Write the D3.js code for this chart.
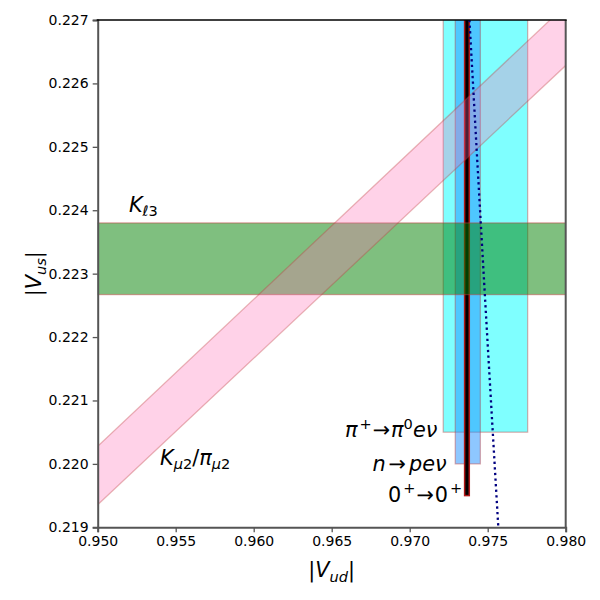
<!DOCTYPE html>
<html><head><meta charset="utf-8">
<script src="https://cdn.jsdelivr.net/npm/d3@7"></script>
<style>body{margin:0;background:#fff}svg{display:block}text{font-family:"DejaVu Sans",sans-serif}</style>
</head><body><svg id="c" width="600" height="600"></svg>
<script>
// ---- data ----
const vudDomain = [0.950, 0.980];
const vusDomain = [0.219, 0.227];
const xTicks = [0.950, 0.955, 0.960, 0.965, 0.970, 0.975, 0.980];
const yTicks = [0.219, 0.220, 0.221, 0.222, 0.223, 0.224, 0.225, 0.226, 0.227];
const kl3Band = [0.22267, 0.22380];            // |Vus| from K_l3
const kmu2Ratio = [0.23090, 0.23187];          // |Vus|/|Vud| band from K_mu2/pi_mu2
const pionBetaBox = [0.97215, 0.97756, 0.2205]; // vud lo, vud hi, vus bottom
const neutronBox = [0.97292, 0.97453, 0.2200];
const superallowedBox = [0.97352, 0.97382, 0.2195];
const unitarityVud = [0.97383, 0.97474, 0.97568];
const unitarityVus = [0.2270, 0.2230, 0.2190];

const svg = d3.select("#c");
const L = 97.7, R = 565.7, T = 20, B = 527.3;
const x = d3.scaleLinear().domain(vudDomain).range([L, R]);
const y = d3.scaleLinear().domain(vusDomain).range([B, T]);
const topV = 0.2275;

svg.append("clipPath").attr("id", "clip").append("rect")
  .attr("x", L).attr("y", T).attr("width", R - L).attr("height", B - T);
const g = svg.append("g").attr("clip-path", "url(#clip)");
const edge = "rgb(190,60,60)";

function box(b, fill, op) {
  g.append("rect").attr("x", x(b[0])).attr("width", x(b[1]) - x(b[0]))
    .attr("y", y(topV)).attr("height", y(b[2]) - y(topV))
    .attr("fill", fill).attr("fill-opacity", op)
    .attr("stroke", edge).attr("stroke-opacity", 0.4).attr("stroke-width", 1.3);
}
box(pionBetaBox, "cyan", 0.5);
box(neutronBox, "dodgerblue", 0.5);
g.append("rect").attr("x", x(superallowedBox[0])).attr("width", x(superallowedBox[1]) - x(superallowedBox[0]))
  .attr("y", y(topV)).attr("height", y(superallowedBox[2]) - y(topV))
  .attr("fill", "black").attr("stroke", "#b01818").attr("stroke-width", 1.5);

// K_l3 horizontal band
g.append("rect").attr("x", x(vudDomain[0]) - 5).attr("width", x(vudDomain[1]) - x(vudDomain[0]) + 10)
  .attr("y", y(kl3Band[1])).attr("height", y(kl3Band[0]) - y(kl3Band[1]))
  .attr("fill", "green").attr("fill-opacity", 0.5)
  .attr("stroke", edge).attr("stroke-opacity", 0.45).attr("stroke-width", 1.3);

// K_mu2/pi_mu2 diagonal band
const pts = [
  [vudDomain[0], kmu2Ratio[0] * vudDomain[0]],
  [vudDomain[1], kmu2Ratio[0] * vudDomain[1]],
  [vudDomain[1], kmu2Ratio[1] * vudDomain[1]],
  [vudDomain[0], kmu2Ratio[1] * vudDomain[0]]
];
g.append("path").attr("d", d3.line().x(d => x(d[0])).y(d => y(d[1]))(pts) + "Z")
  .attr("fill", "hotpink").attr("fill-opacity", 0.3)
  .attr("stroke", edge).attr("stroke-opacity", 0.35).attr("stroke-width", 1.3);

// unitarity dotted line
g.append("path").datum(unitarityVud.map((v, i) => [v, unitarityVus[i]]))
  .attr("d", d3.line().x(d => x(d[0])).y(d => y(d[1])).curve(d3.curveMonotoneY))
  .attr("fill", "none").attr("stroke", "navy").attr("stroke-width", 2.3)
  .attr("stroke-dasharray", "2.3,3.3");

// axes
const spine = "#555";
const xa = svg.append("g").attr("transform", `translate(0,${B})`)
  .call(d3.axisBottom(x).tickValues(xTicks).tickFormat(d3.format(".3f")).tickSizeOuter(0).tickSize(5).tickPadding(4));
const ya = svg.append("g").attr("transform", `translate(${L},0)`)
  .call(d3.axisLeft(y).tickValues(yTicks).tickFormat(d3.format(".3f")).tickSizeOuter(0).tickSize(5).tickPadding(4));
[xa, ya].forEach(a => {
  a.select(".domain").attr("stroke", spine).attr("stroke-width", 2);
  a.selectAll(".tick line").attr("stroke", spine).attr("stroke-width", 1.3);
  a.selectAll(".tick text").attr("fill", "#000").style("font-size", "14px").style("font-family", "DejaVu Sans");
});
svg.append("line").attr("x1", R).attr("x2", R).attr("y1", T).attr("y2", B).attr("stroke", spine).attr("stroke-width", 2);
svg.append("line").attr("x1", L - 1).attr("x2", R + 1).attr("y1", T).attr("y2", T).attr("stroke", "#000").attr("stroke-width", 1.3);

// math-like text helper: segs = [text, italic, position, extra dx]
function mtext(parent, px, py, segs, anchor, size) {
  const t = parent.append("text").attr("x", px).attr("y", py)
    .attr("text-anchor", anchor || "start").style("font-size", size + "px").attr("fill", "#000");
  let cur = 0;
  segs.forEach(s => {
    const [str, it, pos, dx] = s;
    let target = 0, fs = size;
    if (pos === "sub") { target = size * 0.22; fs = size * 0.7; }
    if (pos === "sup") { target = -size * 0.42; fs = size * 0.7; }
    const ts = t.append("tspan").text(str).style("font-size", fs + "px")
      .style("font-style", it ? "italic" : "normal").attr("dy", target - cur);
    if (dx) ts.attr("dx", dx);
    cur = target;
  });
  return t;
}
const FS = 20.8;
mtext(svg, x(0.952), y(0.224) + 1.5, [["K", 1], ["ℓ", 1, "sub"], ["3", 0, "sub"]], "start", FS);
mtext(svg, x(0.954), y(0.2200) + 0.8, [["K", 1], ["μ", 1, "sub"], ["2", 0, "sub"], ["/", 0], ["π", 1], ["μ", 1, "sub"], ["2", 0, "sub"]], "start", FS);
mtext(svg, x(0.97177), y(0.22042), [["π", 1], ["+", 0, "sup", 2], ["→", 0, null, 1], ["π", 1, null, 1], ["0", 0, "sup"], ["eν", 1]], "end", FS);
mtext(svg, x(0.97237), y(0.21989), [["n", 1], ["→", 0, null, 3], ["peν", 1, null, 3]], "end", FS);
mtext(svg, x(0.97337), y(0.21940), [["0", 0], ["+", 0, "sup", 2], ["→", 0, null, 1], ["0", 0, null, 1], ["+", 0, "sup", 2]], "end", FS);

mtext(svg, (L + R) / 2, 577, [["|", 0], ["V", 1], ["ud", 1, "sub"], ["|", 0]], "middle", FS);
mtext(svg.append("g").attr("transform", `translate(41,${(T + B) / 2}) rotate(-90)`), 0, 0,
  [["|", 0], ["V", 1], ["us", 1, "sub"], ["|", 0]], "middle", FS);
</script></body></html>
